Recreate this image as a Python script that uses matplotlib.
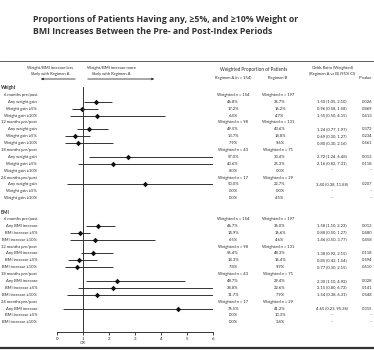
import numpy as np
import matplotlib
matplotlib.use("Agg")
import matplotlib.pyplot as plt
import matplotlib.transforms as mtransforms
from matplotlib.lines import Line2D
from matplotlib.patches import FancyArrowPatch

plt.rcParams['font.family'] = ['Lato', 'DejaVu Sans']

W, H = 374, 352
DPI = 100

title = ("Proportions of Patients Having any, \u22655%, and \u226510% Weight or\n"
         "BMI Increases Between the Pre- and Post-Index Periods")

sections = ["Weight", "BMI"]
periods = ["6 months pre/post", "12 months pre/post",
           "18 months pre/post", "24 months pre/post"]
outcomes = {
    "Weight": ["Any weight gain", "Weight gain \u22655%", "Weight gain \u226510%"],
    "BMI": ["Any BMI increase", "BMI increase \u22655%", "BMI increase \u226510%"],
}
n_a = [154, 98, 43, 17]
n_b = [197, 131, 71, 29]

pct_a = {
    "Weight": [[46.8, 17.2, 6.4], [49.5, 13.7, 7.9], [57.0, 40.6, 8.0], [50.0, 0.0, 0.0]],
    "BMI":    [[46.7, 14.9, 6.5], [56.4, 14.3, 7.8], [48.7, 38.8, 11.7], [76.5, 0.0, 0.0]],
}
pct_b = {
    "Weight": [[36.7, 16.2, 4.7], [43.6, 18.8, 9.6], [33.4, 25.3, 0.0], [22.7, 0.0, 4.5]],
    "BMI":    [[36.0, 16.6, 4.6], [48.3, 16.4, 9.9], [29.4, 22.6, 7.9], [41.2, 10.3, 3.4]],
}
odds = {
    "Weight": [[1.50, 0.96, 1.55], [1.24, 0.69, 0.80], [2.72, 2.16, np.nan], [3.40, np.nan, np.nan]],
    "BMI":    [[1.58, 0.88, 1.46], [1.38, 0.85, 0.77], [2.30, 2.15, 1.54], [4.65, np.nan, np.nan]],
}
ci_low = {
    "Weight": [[1.05, 0.58, 0.50], [0.77, 0.30, 0.30], [1.24, 0.82, np.nan], [0.38, np.nan, np.nan]],
    "BMI":    [[1.10, 0.50, 0.50], [0.92, 0.42, 0.30], [1.10, 0.80, 0.38], [0.23, np.nan, np.nan]],
}
ci_high = {
    "Weight": [[2.10, 1.58, 4.15], [1.97, 1.27, 2.16], [6.48, 7.31, np.nan], [11.88, np.nan, np.nan]],
    "BMI":    [[2.23, 1.27, 3.77], [2.15, 1.54, 2.15], [4.92, 6.72, 6.31], [95.36, np.nan, np.nan]],
}
p_values = {
    "Weight": [["0.026", "0.869", "0.413"], ["0.372", "0.234", "0.661"], ["0.013", "0.118", "\u2013"], ["0.207", "\u2013", "\u2013"]],
    "BMI":    [["0.013", "0.480", "0.458"], ["0.118", "0.594", "0.610"], ["0.028", "0.141", "0.548"], ["0.315", "\u2013", "\u2013"]],
}
x_ticks = [0, 1, 2, 3, 4, 5, 6]

TXT = "#2a2a2a"
LINE = "#333333"

fig = plt.figure(figsize=(W / DPI, H / DPI), dpi=DPI)
fig.patch.set_facecolor("white")

# forest axes: row index on y, odds ratio on x
ax = fig.add_axes([57 / W, (H - 332) / H, 156 / W, 250 / H])
ax.set_xlim(0, 6)
ax.set_ylim(35.4, -0.87)
for s in ["top", "right", "left"]:
    ax.spines[s].set_visible(False)
ax.spines["bottom"].set_color(LINE)
ax.spines["bottom"].set_linewidth(0.7)
ax.set_yticks([])
ax.set_xticks(x_ticks)
ax.set_xticklabels([str(t) for t in x_ticks])
ax.tick_params(axis="x", length=2, width=0.6, pad=1.5, labelsize=3.2, colors=TXT)
ax.patch.set_alpha(0)

# x in figure pixels, y in row index
row_tr = mtransforms.blended_transform_factory(fig.dpi_scale_trans, ax.transData)
def px(x):
    return x / DPI

FS = 3.0
i = 0
for sec in sections:
    ax.text(px(1), i, sec, transform=row_tr, ha="left", va="center", fontsize=FS + 0.3,
            color=TXT, fontweight="bold")
    i += 1
    for k, per in enumerate(periods):
        ax.text(px(37), i, per, transform=row_tr, ha="right", va="center", fontsize=FS, color=TXT)
        ax.text(px(233), i, f"Weighted n = {n_a[k]}", transform=row_tr, ha="center",
                va="center", fontsize=FS, color=TXT)
        ax.text(px(278), i, f"Weighted n = {n_b[k]}", transform=row_tr, ha="center",
                va="center", fontsize=FS, color=TXT)
        i += 1
        for j, lab in enumerate(outcomes[sec]):
            ax.text(px(37), i, lab, transform=row_tr, ha="right", va="center", fontsize=FS, color=TXT)
            ax.text(px(233), i, f"{pct_a[sec][k][j]:.1f}%", transform=row_tr, ha="center",
                    va="center", fontsize=FS, color=TXT)
            ax.text(px(280), i, f"{pct_b[sec][k][j]:.1f}%", transform=row_tr, ha="center",
                    va="center", fontsize=FS, color=TXT)
            o = odds[sec][k][j]
            lo = ci_low[sec][k][j]
            hi = ci_high[sec][k][j]
            if np.isnan(o):
                or_txt = "\u2013"
            else:
                or_txt = f"{o:.2f} ({lo:.2f}, {hi:.2f})"
                ax.plot([lo, hi], [i, i], color=LINE, lw=0.7, solid_capstyle="butt")
                ax.plot([o], [i], marker="D", ms=2.8, color="#111111", mew=0)
            ax.text(px(332), i, or_txt, transform=row_tr, ha="center", va="center",
                    fontsize=FS, color=TXT)
            ax.text(px(372), i, p_values[sec][k][j], transform=row_tr, ha="right",
                    va="center", fontsize=FS, color=TXT)
            i += 1
    i += 1  # blank row between sections

# reference line at OR = 1
ax.plot([1, 1], [-0.2, 35.4], color=LINE, lw=0.7, clip_on=False)
ax.text(1, 37.0, "OR", ha="center", va="center", fontsize=FS, color=TXT)

# header block (figure pixel coordinates, y measured from the top)
def ftext(x, y, s, **kw):
    kw.setdefault("fontsize", 3.3)
    kw.setdefault("color", TXT)
    fig.text(px(x), px(H - y), s, transform=fig.dpi_scale_trans, **kw)

title_font = ['Open Sans', 'DejaVu Sans']
for line, yy in zip(title.split("\n"), [20, 31.5]):
    ftext(33, yy, line, fontsize=6.3, fontweight="bold", family=title_font,
          ha="left", va="center", color="#333333")

ftext(50, 68, "Weight/BMI increase less", ha="center", va="center", fontsize=FS)
ftext(50, 74, "likely with Regimen A", ha="center", va="center", fontsize=FS)
ftext(111, 68, "Weight/BMI increase more", ha="center", va="center", fontsize=FS)
ftext(111, 74, "likely with Regimen A", ha="center", va="center", fontsize=FS)

ftext(254, 70, "Weighted Proportion of Patients", ha="center", va="center")
ftext(233, 78, "Regimen A (n = 154)", ha="center", va="center", fontsize=FS)
ftext(278, 78, "Regimen B", ha="center", va="center", fontsize=FS)
ftext(332, 68, "Odds Ratio (Weighted)", ha="center", va="center", fontsize=FS)
ftext(332, 74, "(Regimen A vs B) (95% CI)", ha="center", va="center", fontsize=FS)
ftext(372, 78, "P-value", ha="right", va="center", fontsize=FS)

arrow_kw = dict(arrowstyle="-|>", color=LINE, lw=0.6, mutation_scale=3)
fig.add_artist(FancyArrowPatch((px(78), px(H - 79)), (px(38), px(H - 79)),
               transform=fig.dpi_scale_trans, **arrow_kw))
fig.add_artist(FancyArrowPatch((px(85), px(H - 79)), (px(157), px(H - 79)),
               transform=fig.dpi_scale_trans, **arrow_kw))

# table rules
fig.add_artist(Line2D([0, 1], [1 - 61 / H, 1 - 61 / H], transform=fig.transFigure,
                      color="#444444", lw=0.6))
fig.add_artist(Line2D([0, 1], [1 - 348 / H, 1 - 348 / H], transform=fig.transFigure,
                      color="#333333", lw=1.6))

fig.savefig("out.png", dpi=DPI, facecolor="white")
